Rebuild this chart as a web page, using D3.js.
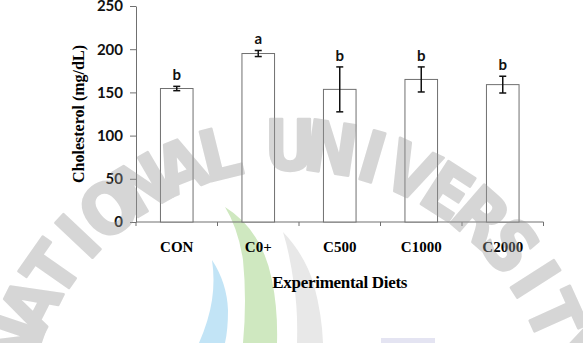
<!DOCTYPE html>
<html>
<head>
<meta charset="utf-8">
<script src="https://cdn.jsdelivr.net/npm/d3@7"></script>
<style>
  body { margin: 0; background: #fff; }
</style>
</head>
<body>
<div id="chart"></div>
<script>
// data
var diets = ["CON", "C0+", "C500", "C1000", "C2000"];
var cholesterol = [154.5, 195, 153.5, 165, 159];
var sem = [2.5, 3.5, 26, 14.5, 9.7];
var letters = ["b", "a", "b", "b", "b"];
var yTicks = [0, 50, 100, 150, 200, 250];

var W = 583, H = 343;
var plot = {left: 136, right: 543.5, top: 6, bottom: 222};

var svg = d3.select("#chart")
  .append("svg")
    .attr("width", W)
    .attr("height", H);

// watermark crescents (behind the chart)
var deco = svg.append("g");
deco.append("path")
  .attr("d", "M225,207 Q262,230 272,280 Q278,310 277,343 L243,343 Q247,300 243,260 Q238,228 225,207 Z")
  .style("fill", "#cfe8c0");
deco.append("path")
  .attr("d", "M212,260 Q227,283 228,310 Q228,330 225,343 L199,343 Q209,320 212,300 Q215,280 212,260 Z")
  .style("fill", "#c2e4f6");
deco.append("path")
  .attr("d", "M283,232 Q305,255 314,285 Q322,315 323,343 L297,343 Q298,310 294,285 Q290,255 283,232 Z")
  .style("fill", "#e8e8e8");
deco.append("rect")
  .attr("x", 381).attr("y", 338).attr("width", 54).attr("height", 5)
  .style("fill", "#e4e4f2");

var x = d3.scaleBand()
  .domain(diets)
  .range([plot.left, plot.right])
  .paddingInner(0.6)
  .paddingOuter(0.3);

var y = d3.scaleLinear()
  .domain([0, 250])
  .range([plot.bottom, plot.top]);

var table = diets.map(function(d, i) {
  return {diet: d, mean: cholesterol[i], err: sem[i], letter: letters[i]};
});

// Y axis
var yAxis = svg.append("g")
  .attr("transform", "translate(" + plot.left + ",0)")
  .call(d3.axisLeft(y).tickValues(yTicks).tickSize(6).tickSizeOuter(0).tickPadding(7));
yAxis.selectAll("path, line").style("stroke", "#707070");
yAxis.selectAll("text")
  .style("font-family", "Lato, 'Open Sans', sans-serif")
  .style("font-weight", "bold")
  .style("font-size", "15px")
  .style("fill", "#111");

// X axis line + ticks at the band boundaries
var half = (x.step() - x.bandwidth()) / 2;
var bounds = diets.map(function(d) { return x(d) - half; }).concat([plot.right]);
svg.append("line")
  .attr("x1", plot.left).attr("x2", plot.right)
  .attr("y1", y(0)).attr("y2", y(0))
  .style("stroke", "#707070");
svg.selectAll(".xtick")
  .data(bounds)
  .enter()
  .append("line")
    .attr("x1", function(d) { return d; })
    .attr("x2", function(d) { return d; })
    .attr("y1", y(0))
    .attr("y2", y(0) + 4)
    .style("stroke", "#707070");

svg.selectAll(".xlab")
  .data(diets)
  .enter()
  .append("text")
    .attr("x", function(d) { return x(d) + x.bandwidth() / 2; })
    .attr("y", 252)
    .attr("text-anchor", "middle")
    .style("font-family", "'Liberation Serif', 'Times New Roman', serif")
    .style("font-weight", "bold")
    .style("font-size", "15px")
    .text(function(d) { return d; });

// Bars
svg.selectAll(".bar")
  .data(table)
  .enter()
  .append("rect")
    .attr("x", function(d) { return x(d.diet); })
    .attr("y", function(d) { return y(d.mean); })
    .attr("width", x.bandwidth())
    .attr("height", function(d) { return y(0) - y(d.mean); })
    .style("fill", "#fff")
    .style("stroke", "#707070")
    .style("stroke-width", 1);

// error bars
var eb = svg.selectAll(".err")
  .data(table)
  .enter()
  .append("g")
    .attr("transform", function(d) { return "translate(" + (x(d.diet) + x.bandwidth() / 2) + ",0)"; });
eb.append("line")
  .attr("y1", function(d) { return y(d.mean - d.err); })
  .attr("y2", function(d) { return y(d.mean + d.err); })
  .style("stroke", "#111").style("stroke-width", 1.5);
eb.append("line")
  .attr("x1", -3.5).attr("x2", 3.5)
  .attr("y1", function(d) { return y(d.mean + d.err); })
  .attr("y2", function(d) { return y(d.mean + d.err); })
  .style("stroke", "#111").style("stroke-width", 1.5);
eb.append("line")
  .attr("x1", -3.5).attr("x2", 3.5)
  .attr("y1", function(d) { return y(d.mean - d.err); })
  .attr("y2", function(d) { return y(d.mean - d.err); })
  .style("stroke", "#111").style("stroke-width", 1.5);

// significance letters
eb.append("text")
  .attr("y", function(d) { return y(d.mean + d.err) - 6; })
  .attr("text-anchor", "middle")
  .style("font-family", "Lato, 'Open Sans', sans-serif")
  .style("font-weight", "bold")
  .style("font-size", "15px")
  .style("fill", "#111")
  .text(function(d) { return d.letter; });

// axis titles
svg.append("text")
  .attr("transform", "rotate(-90)")
  .attr("x", -(plot.top + plot.bottom) / 2)
  .attr("y", 84)
  .attr("text-anchor", "middle")
  .style("font-family", "'Liberation Serif', 'Times New Roman', serif")
  .style("font-weight", "bold")
  .style("font-size", "16px")
  .text("Cholesterol (mg/dL)");

svg.append("text")
  .attr("x", (plot.left + plot.right) / 2)
  .attr("y", 288)
  .attr("text-anchor", "middle")
  .style("font-family", "'Liberation Serif', 'Times New Roman', serif")
  .style("font-weight", "bold")
  .style("font-size", "17px")
  .style("letter-spacing", "-0.3px")
  .text("Experimental Diets");

// watermark letters laid on an arc, over everything
var wmText = "NATIONAL UNIVERSITY".split("").map(function(c, i) { return {c: c, i: i}; })
  .filter(function(d) { return d.c !== " "; });
var cx = 290, cy = 436, rMid = 290, pitch = 8.2, uIndex = 9;
var wm = svg.append("g")
  .style("font-family", "'Liberation Sans Narrow', 'DejaVu Sans Condensed', sans-serif")
  .style("font-weight", "bold")
  .style("font-size", "70px")
  .style("fill", "#9a9a9a")
  .style("stroke", "#9a9a9a")
  .style("stroke-width", 2.5)
  .style("stroke-linejoin", "round")
  .style("opacity", 0.4);
wm.selectAll("text")
  .data(wmText)
  .enter()
  .append("text")
    .attr("text-anchor", "middle")
    .attr("dominant-baseline", "central")
    .attr("transform", function(d) {
      var a = (d.i - uIndex) * pitch + (d.i < uIndex ? 2.5 : 0);
      return "translate(" + cx + "," + cy + ") rotate(" + a + ") translate(0," + (-rMid) + ")";
    })
    .text(function(d) { return d.c; });
</script>
</body>
</html>
